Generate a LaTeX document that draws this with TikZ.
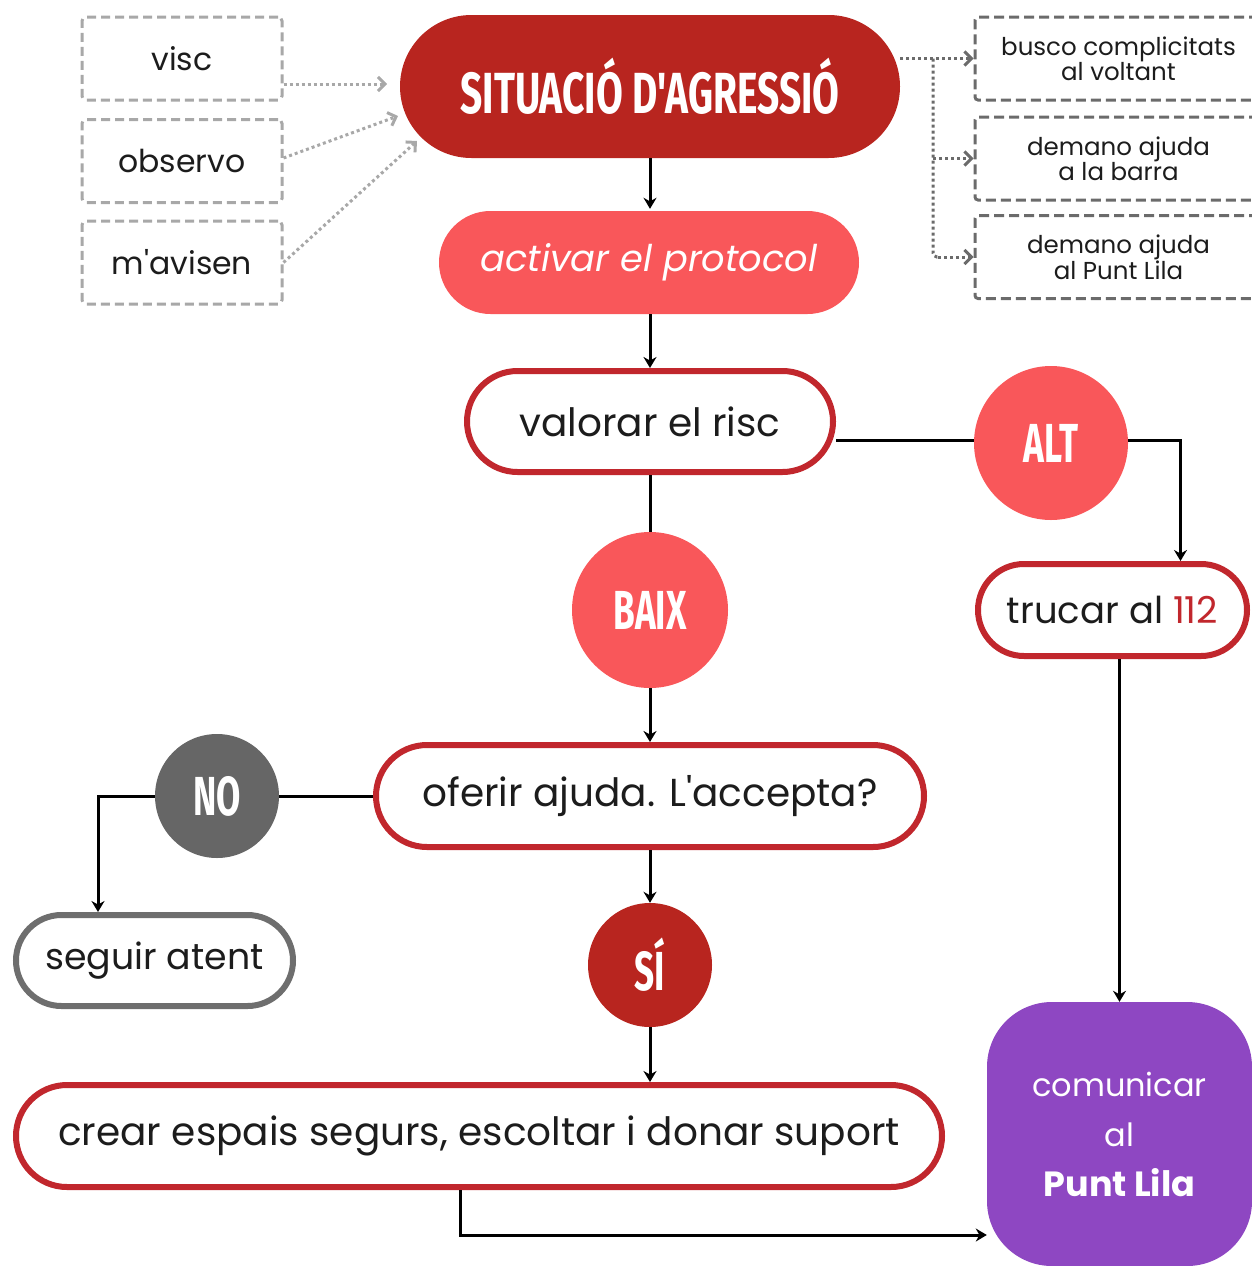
\documentclass[tikz,border=0pt]{standalone}
\usepackage{fontspec}
\setmainfont{Poppins}[Ligatures=TeXOff]
\newfontfamily\condfont{Fira Sans}[FakeStretch=0.64,Ligatures=TeXOff]
\newfontfamily\headfont{Fira Sans}[FakeStretch=0.67,Ligatures=TeXOff]
\usetikzlibrary{shapes.misc,arrows.meta,calc}
\definecolor{darkred}{HTML}{B8251F}
\definecolor{redline}{HTML}{C1272D}
\definecolor{lightred}{HTML}{F9575A}
\definecolor{graycirc}{HTML}{666666}
\definecolor{grayline}{HTML}{6E6E6E}
\definecolor{purplebox}{HTML}{8E47C2}
\definecolor{txt}{HTML}{1C1C1C}
\definecolor{lgray}{HTML}{A8A8A8}
\definecolor{dgray}{HTML}{6B6B6B}
\begin{document}
\begin{tikzpicture}[x=1pt,y=-1pt,
  stad/.style={rounded rectangle, inner sep=0pt, text=txt, font=\fontsize{39}{42}\selectfont},
  outl/.style={stad, draw=redline, line width=6pt, fill=white},
  filled/.style={stad, text=white},
  circ/.style={circle, inner sep=0pt, text=white, font=\condfont\bfseries\fontsize{55}{55}\selectfont},
  lbox/.style={draw=lgray, line width=3pt, dash pattern=on 9pt off 5pt, rounded corners=4pt, inner sep=0pt, minimum width=200pt, minimum height=83pt, text=txt, font=\fontsize{31.5}{34}\selectfont},
  rbox/.style={draw=dgray, line width=3pt, dash pattern=on 10pt off 5pt, rounded corners=3pt, inner sep=0pt, minimum width=287pt, minimum height=83pt, text=txt, align=center, font=\fontsize{24.5}{25}\selectfont},
  ln/.style={line width=3pt, black},
  arr/.style={ln, -{Stealth[length=11pt,width=13pt]}},
  dotln/.style={line width=3pt, dash pattern=on 3pt off 3pt},
  ldot/.style={dotln, lgray, -{Straight Barb[length=7pt,width=14pt]}},
  rdot/.style={dotln, dgray, -{Straight Barb[length=7pt,width=14pt]}},
]
\useasboundingbox (0,0) rectangle (1252,1266);

% top left boxes
\node[lbox] (visc) at (182,58.5) {visc};
\node[lbox] (obs) at (182,161) {observo};
\node[lbox] (mav) at (182,262.5) {m'avisen};

% main nodes
\node[filled, fill=darkred, minimum width=500pt, minimum height=143pt,
      font=\headfont\bfseries\fontsize{58}{58}\selectfont] (sit) at (650,86.5) {SITUACIÓ D'AGRESSIÓ};
\node[filled, fill=lightred, minimum width=420pt, minimum height=103pt,
      font=\itshape\fontsize{36.8}{40}\selectfont] (act) at (649,262.5) {activar el protocol};
\node[outl, minimum width=366pt, minimum height=101pt] (val) at (650,421.5) {valorar el risc};
\node[circ, fill=lightred, minimum size=154pt] (alt) at (1051,443) {ALT};
\node[outl, minimum width=269pt, minimum height=92pt, font=\fontsize{37}{40}\selectfont] (tru) at (1112.5,610) {trucar al {\color{redline}112}};
\node[circ, fill=lightred, minimum size=156pt] (baix) at (650,610) {BAIX};
\node[outl, minimum width=548pt, minimum height=102pt] (ofe) at (650,796) {oferir ajuda. L'accepta?};
\node[circ, fill=graycirc, minimum size=124pt] (no) at (217,796) {NO};
\node[outl, draw=grayline, minimum width=277pt, minimum height=91pt, font=\fontsize{36.3}{40}\selectfont] (seg) at (154.5,960.5) {seguir atent};
\node[circ, fill=darkred, minimum size=124pt] (si) at (650,965) {SÍ};
\node[outl, minimum width=926pt, minimum height=102pt] (cre) at (479,1136) {crear espais segurs, escoltar i donar suport};
\node[rectangle, rounded corners=65pt, fill=purplebox, inner sep=0pt, minimum width=265pt, minimum height=264pt,
      text=white, align=center, font=\fontsize{32}{50}\selectfont] (com) at (1119.5,1134)
      {comunicar\\al\\{\fontsize{35}{50}\selectfont\bfseries Punt Lila}};

% right boxes
\node[rbox] (b1) at (1118.5,58.5) {busco complicitats\\al voltant};
\node[rbox] (b2) at (1118.5,158.5) {demano ajuda\\a la barra};
\node[rbox] (b3) at (1118.5,257) {demano ajuda\\al Punt Lila};

% dotted connectors left
\coordinate (t1) at (387,84);
\coordinate (t2) at (398,116);
\coordinate (t3) at (417,141);
\draw[ldot] ($(visc.east)+(0,25.5)$) -- (t1);
\draw[ldot] ($(obs.east)+(0,-3)$) -- (t2);
\draw[ldot] (mav.east) -- (t3);

% dotted connectors right
\coordinate (jx) at (933,58.5);
\draw[rdot] (sit.east |- b1.west) -- (b1.west);
\draw[dotln, dgray, rounded corners=4pt] (jx) -- (jx |- b3.west) -- ($(jx |- b3.west)+(6,0)$);
\draw[rdot] (jx |- b2.west) -- (b2.west);
\draw[rdot] ($(jx |- b3.west)+(5,0)$) -- (b3.west);

% solid connectors
\draw[arr, shorten >=2pt] (sit.south) -- (sit.south |- act.north);
\draw[arr] (val.north |- act.south) -- (val.north);
\coordinate (alty) at (0,440);
\draw[ln] (val.east |- alty) -- (alt.west |- alty);
\draw[arr] (alt.east |- alty) -| ($(tru.north)+(68,0)$);
\draw[ln] (val.south) -- (baix.north);
\draw[arr] (baix.south) -- (ofe.north);
\draw[ln] (ofe.west) -- (no.east);
\draw[arr] (no.west) -| ($(seg.north)+(-56.5,0)$);
\draw[arr] (ofe.south) -- (si.north);
\draw[arr] (si.south) -- (si.south |- cre.north);
\draw[arr] (com.north |- tru.south) -- (com.north);
\coordinate (lowy) at (0,1235);
\draw[arr] ($(cre.south)+(-19,0)$) |- (com.west |- lowy);
\end{tikzpicture}
\end{document}
